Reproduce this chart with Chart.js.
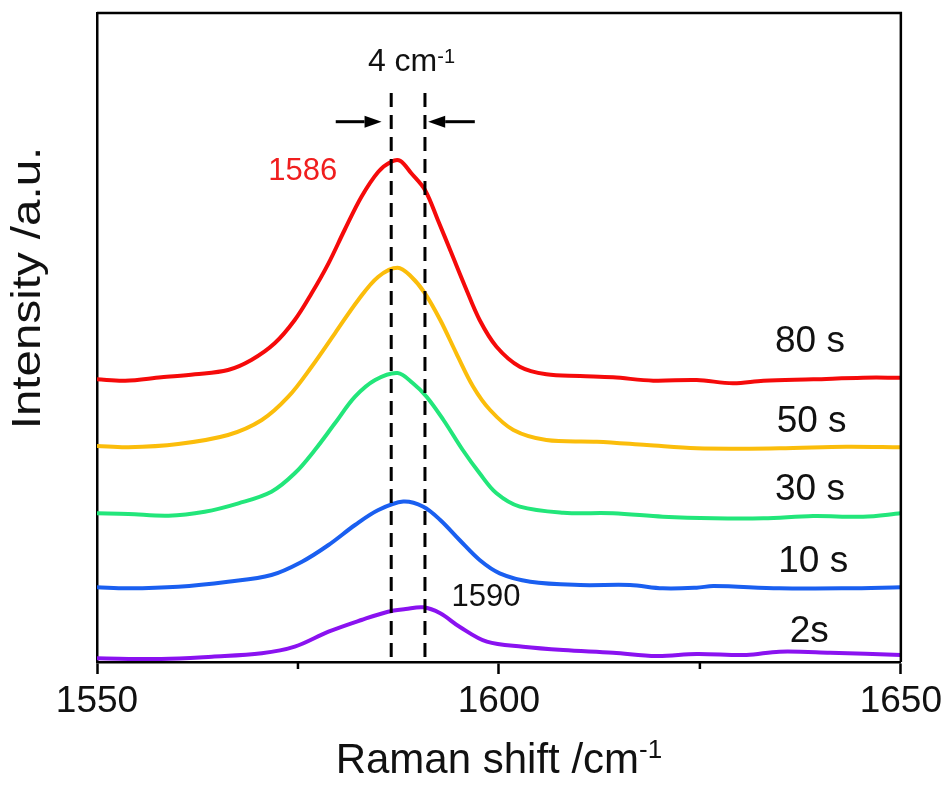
<!DOCTYPE html>
<html>
<head>
<meta charset="utf-8">
<script src="https://cdn.jsdelivr.net/npm/chart.js@4.4.0/dist/chart.umd.min.js"></script>
<style>
  html, body { margin: 0; padding: 0; background: #fff; }
  #wrap { width: 948px; height: 785px; }
</style>
</head>
<body>
<div id="wrap"><canvas id="raman"></canvas></div>
<script>
const FONT = '"Liberation Sans", Arial, sans-serif';

// series, top to bottom
const seriesNames = ['80 s', '50 s', '30 s', '10 s', '2s'];
const seriesColors = ['#f50a0a', '#fbbd0b', '#22e67a', '#1a5ff0', '#8a12f0'];

const shift80 = [1550, 1553.5, 1558, 1562.2, 1566.3, 1569.2, 1572.1, 1574.6, 1576.7, 1578.8, 1580.8, 1582.9, 1585, 1586.6, 1587.7, 1589.1, 1590.8, 1592.4, 1594.1, 1595.8, 1597.6, 1599.7, 1602.6, 1605.9, 1610.1, 1614.2, 1619.2, 1624.6, 1629.1, 1632.9, 1639.1, 1645.3, 1650];
const int80 = [282.7, 281.3, 284.7, 287.7, 292, 302, 318.7, 342, 368.7, 398.7, 432, 465.3, 490.3, 500.3, 501.3, 488.7, 472, 442, 408.7, 375.3, 342, 315.3, 295.3, 287.7, 286, 284.7, 281.3, 282, 278.7, 281.3, 282.7, 284.3, 284.3];

const shift50 = [1550, 1553.9, 1560.1, 1566.3, 1570.5, 1573.8, 1576.7, 1579.6, 1582.5, 1585, 1587.4, 1589.1, 1590.8, 1592.7, 1594.7, 1596.8, 1598.9, 1601.8, 1605.9, 1612.2, 1618.4, 1624.6, 1634.9, 1643.2, 1650];
const int50 = [216, 214.7, 218, 227, 242, 265.3, 295.3, 328.7, 362, 385.3, 394.3, 385.3, 368.7, 342, 308.7, 275.3, 252, 232, 222, 220.3, 217, 213.7, 213.7, 215.3, 214.7];

const shift30 = [1550, 1553.9, 1558.9, 1563.4, 1567.6, 1571.7, 1574.6, 1577.1, 1579.6, 1582.1, 1584.6, 1587.4, 1589.3, 1591, 1593.1, 1595.5, 1597.6, 1599.7, 1602.6, 1608, 1614.2, 1620.4, 1626.7, 1632.9, 1639.1, 1645.3, 1650];
const int30 = [148.7, 148, 146.3, 150.3, 158.7, 170.3, 188.7, 212, 238.7, 265.3, 282, 289, 278.7, 265.3, 242, 212, 188.7, 168.7, 155.3, 149.3, 148.7, 145.3, 143.7, 143.7, 146, 145.3, 148.7];

const shift10 = [1550, 1553.9, 1560.1, 1566.3, 1571.7, 1575.5, 1578.8, 1582.1, 1585, 1588.1, 1590.6, 1592.7, 1595.1, 1597.6, 1600.1, 1603.9, 1610.1, 1616.3, 1620.4, 1624.6, 1626.7, 1634.9, 1643.2, 1650];
const int10 = [74.7, 73.7, 75.3, 80.3, 87, 100.3, 117, 137, 152, 160.5, 155.3, 142, 122, 102, 88.7, 80.3, 77, 77, 73.7, 74.3, 76, 73.7, 73.7, 74.7];

const shift2 = [1550, 1558, 1564.3, 1570.5, 1574.6, 1578.8, 1582.9, 1586.2, 1588.4, 1590.6, 1592.7, 1595.1, 1598.5, 1603, 1608, 1614.2, 1619.6, 1624.6, 1630.8, 1634.9, 1641.2, 1650];
const int2 = [3.7, 3, 5.3, 8.7, 15.3, 30.3, 42, 50.3, 53, 54.7, 48.7, 35.3, 20.3, 15.3, 12, 9.3, 6, 8, 7, 10.3, 9.3, 7];

const shifts = [shift80, shift50, shift30, shift10, shift2];
const intensities = [int80, int50, int30, int10, int2];

// where each curve label sits (shift, intensity of baseline)
const nameX = [1638.7, 1638.9, 1638.7, 1639.1, 1638.6];
const nameY = [310.3, 230.3, 162, 90.3, 20.3];

// peak markers
const peakLines = [1586.6, 1590.8];
const peakLineTop = 569;
const peakLabels = ['1586', '1590'];
const peakLabelX = [1571.3, 1594.1];
const peakLabelY = [482, 56];
const arrowY = 540.3;
const arrowLeft = [1579.7, 1585.4];
const arrowRight = [1597.0, 1591.2];
const gapLabelX = 1583.7;
const gapLabelY = 591.3;

function supText(ctx, main, sup, x, y, size, supSize, raise, color) {
  ctx.fillStyle = color;
  ctx.textAlign = 'left';
  ctx.textBaseline = 'alphabetic';
  ctx.font = size + 'px ' + FONT;
  ctx.fillText(main, x, y);
  const w = ctx.measureText(main).width;
  ctx.font = supSize + 'px ' + FONT;
  ctx.fillText(sup, x + w, y - raise);
  return w + ctx.measureText(sup).width;
}

function arrow(ctx, x1, x2, y) {
  const dir = x2 > x1 ? 1 : -1;
  const head = 17;
  ctx.beginPath();
  ctx.moveTo(x1, y);
  ctx.lineTo(x2 - dir * head, y);
  ctx.lineWidth = 3;
  ctx.strokeStyle = '#000';
  ctx.stroke();
  ctx.beginPath();
  ctx.moveTo(x2, y);
  ctx.lineTo(x2 - dir * head, y - 6);
  ctx.lineTo(x2 - dir * head, y + 6);
  ctx.closePath();
  ctx.fillStyle = '#000';
  ctx.fill();
}

const extras = {
  id: 'extras',
  afterDatasetsDraw(chart) {
    const ctx = chart.ctx;
    const xs = chart.scales.x;
    const ys = chart.scales.y;
    const area = chart.chartArea;
    ctx.save();

    // top and right frame
    ctx.strokeStyle = '#000';
    ctx.lineWidth = 2.5;
    ctx.beginPath();
    ctx.moveTo(area.left, area.top);
    ctx.lineTo(area.right, area.top);
    ctx.lineTo(area.right, area.bottom);
    ctx.stroke();

    // minor ticks
    [1575, 1625].forEach(v => {
      const px = xs.getPixelForValue(v);
      ctx.beginPath();
      ctx.moveTo(px, area.bottom);
      ctx.lineTo(px, area.bottom + 7);
      ctx.stroke();
    });

    // dashed peak lines
    ctx.setLineDash([14, 8]);
    ctx.lineWidth = 3;
    peakLines.forEach(v => {
      const px = xs.getPixelForValue(v);
      ctx.beginPath();
      ctx.moveTo(px, ys.getPixelForValue(peakLineTop));
      ctx.lineTo(px, area.bottom);
      ctx.stroke();
    });
    ctx.setLineDash([]);

    arrow(ctx, xs.getPixelForValue(arrowLeft[0]), xs.getPixelForValue(arrowLeft[1]), ys.getPixelForValue(arrowY));
    arrow(ctx, xs.getPixelForValue(arrowRight[0]), xs.getPixelForValue(arrowRight[1]), ys.getPixelForValue(arrowY));

    supText(ctx, '4 cm', '-1', xs.getPixelForValue(gapLabelX), ys.getPixelForValue(gapLabelY), 32, 20, 8, '#111');

    ctx.textAlign = 'left';
    ctx.textBaseline = 'alphabetic';
    ctx.font = '31px ' + FONT;
    ctx.fillStyle = '#f01e1e';
    ctx.fillText(peakLabels[0], xs.getPixelForValue(peakLabelX[0]), ys.getPixelForValue(peakLabelY[0]));
    ctx.fillStyle = '#111';
    ctx.fillText(peakLabels[1], xs.getPixelForValue(peakLabelX[1]), ys.getPixelForValue(peakLabelY[1]));

    // curve names
    ctx.textAlign = 'center';
    ctx.font = '37px ' + FONT;
    ctx.fillStyle = '#111';
    seriesNames.forEach((n, i) => {
      ctx.fillText(n, xs.getPixelForValue(nameX[i]), ys.getPixelForValue(nameY[i]));
    });

    // axis titles
    const tw = supText(ctx, 'Raman shift /cm', '-1', 0, -1000, 42, 26, 15, 'rgba(0,0,0,0)');
    supText(ctx, 'Raman shift /cm', '-1', (area.left + area.right) / 2 - tw / 2, 773, 42, 26, 15, '#111');

    ctx.save();
    ctx.translate(area.left - 68, area.top + 275);
    ctx.rotate(-Math.PI / 2);
    ctx.scale(1.25, 1.05);
    ctx.font = '38px ' + FONT;
    ctx.textAlign = 'center';
    ctx.textBaseline = 'middle';
    ctx.fillStyle = '#111';
    ctx.fillText('Intensity /a.u.', 0, 0);
    ctx.restore();

    ctx.restore();
  }
};

const datasets = seriesNames.map((name, i) => ({
  label: name,
  data: shifts[i].map((x, j) => ({ x: x, y: intensities[i][j] })),
  borderColor: seriesColors[i],
  borderWidth: 4,
  pointRadius: 0,
  tension: 0.35,
  fill: false
}));

new Chart(document.getElementById('raman'), {
  type: 'line',
  data: { datasets: datasets },
  plugins: [extras],
  options: {
    responsive: true,
    maintainAspectRatio: false,
    animation: false,
    layout: { padding: { top: 13, right: 47, left: 0, bottom: 0 } },
    plugins: {
      legend: { display: false },
      tooltip: { enabled: false }
    },
    scales: {
      x: {
        type: 'linear',
        min: 1550,
        max: 1650,
        afterFit: s => { s.height = 123; },
        ticks: {
          stepSize: 25,
          autoSkip: false,
          maxRotation: 0,
          padding: 6,
          color: '#111',
          font: { size: 37, family: FONT },
          callback: v => (v % 50 === 0 ? v : '')
        },
        grid: {
          drawOnChartArea: false,
          tickLength: 12,
          tickWidth: 2.5,
          tickColor: c => (c.tick && c.tick.value % 50 === 0 ? '#000' : 'rgba(0,0,0,0)')
        },
        border: { color: '#000', width: 2.5 },
        title: { display: false }
      },
      y: {
        min: 0,
        max: 649,
        afterFit: s => { s.width = 97; },
        ticks: { display: false },
        grid: { display: false },
        border: { color: '#000', width: 2.5 },
        title: { display: false }
      }
    }
  }
});
</script>
</body>
</html>
